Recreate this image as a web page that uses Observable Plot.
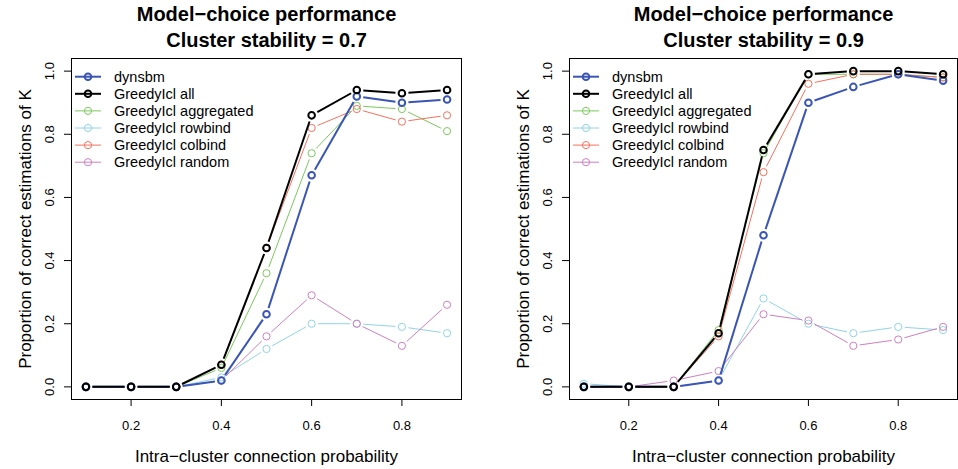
<!DOCTYPE html>
<html><head><meta charset="utf-8">
<script src="https://cdn.jsdelivr.net/npm/d3@7"></script>
<script src="https://cdn.jsdelivr.net/npm/@observablehq/plot@0.6"></script>
<style>
body{margin:0;background:#fff}
#wrap{display:flex;width:958px;height:469px;overflow:hidden}
</style></head><body><div id="wrap"></div>
<script>
// ---- data ----
const probs = [0.1, 0.2, 0.3, 0.4, 0.5, 0.6, 0.7, 0.8, 0.9];
const seriesNames = ["dynsbm", "GreedyIcl all", "GreedyIcl aggregated", "GreedyIcl rowbind", "GreedyIcl colbind", "GreedyIcl random"];
const xTicks = [0.2, 0.4, 0.6, 0.8];
const yTicks = [0, 0.2, 0.4, 0.6, 0.8, 1.0];
const panelTitles = ["Cluster stability = 0.7", "Cluster stability = 0.9"];
const mainTitle = "Model\u2212choice performance";
const xLabel = "Intra\u2212cluster connection probability";
const yLabel = "Proportion of correct estimations of K";

// stability 0.7
const dynsbm07 = [0, 0, 0, 0.02, 0.23, 0.67, 0.92, 0.90, 0.91];
const all07    = [0, 0, 0, 0.07, 0.44, 0.86, 0.94, 0.93, 0.94];
const aggr07   = [0, 0, 0, 0.06, 0.36, 0.74, 0.89, 0.88, 0.81];
const row07    = [0, 0, 0, 0.03, 0.12, 0.20, 0.20, 0.19, 0.17];
const col07    = [0, 0, 0, 0.07, 0.44, 0.82, 0.88, 0.84, 0.86];
const rand07   = [0, 0, 0, 0.02, 0.16, 0.29, 0.20, 0.13, 0.26];
// stability 0.9
const dynsbm09 = [0, 0, 0, 0.02, 0.48, 0.90, 0.95, 0.99, 0.97];
const all09    = [0, 0, 0, 0.17, 0.75, 0.99, 1.00, 1.00, 0.99];
const aggr09   = [0, 0, 0, 0.18, 0.74, 0.99, 0.99, 0.99, 0.98];
const row09    = [0.01, 0, 0, 0.02, 0.28, 0.20, 0.17, 0.19, 0.18];
const col09    = [0, 0, 0, 0.16, 0.68, 0.96, 0.99, 0.99, 0.98];
const rand09   = [0, 0, 0.02, 0.05, 0.23, 0.21, 0.13, 0.15, 0.19];

// ---- styles ----
const FONT = "'Liberation Sans', Arial, Helvetica, sans-serif";
const seriesColors = ["#3a55b4", "#000000", "#7ac95c", "#90d4e6", "#f4715e", "#cd7fc2"];
const seriesThick = [true, true, false, false, false, false];
const drawOrder = [2, 3, 4, 5, 0, 1];

function buildMarks(valuesBySeries) {
  const marks = [];
  for (const s of drawOrder) {
    const vals = valuesBySeries[s];
    const pts = probs.map((x, i) => ({x, y: vals[i]}));
    const segs = pts.slice(1).map((p, i) => ({x1: pts[i].x, y1: pts[i].y, x2: p.x, y2: p.y}));
    marks.push(Plot.arrow(segs, {
      x1: "x1", y1: "y1", x2: "x2", y2: "y2",
      stroke: seriesColors[s], strokeWidth: seriesThick[s] ? 2 : 1,
      headLength: 0, inset: 6.5, strokeLinecap: "butt"
    }));
    marks.push(Plot.dot(pts, {
      x: "x", y: "y", r: seriesThick[s] ? 3.3 : 3.6, fill: "none",
      stroke: seriesColors[s], strokeWidth: seriesThick[s] ? 2 : 1
    }));
  }
  return marks;
}

function legendMark(index, scales, values, dims) {
  const g = d3.create("svg:g").attr("font-family", FONT).attr("font-size", 14.5).attr("text-anchor", "start");
  seriesNames.forEach((name, i) => {
    const y = dims.marginTop + 18.7 + i * 17.1;
    const x0 = dims.marginLeft;
    const w = seriesThick[i] ? 2 : 1;
    g.append("line").attr("x1", x0 + 4).attr("x2", x0 + 30).attr("y1", y).attr("y2", y)
      .attr("stroke", seriesColors[i]).attr("stroke-width", w);
    g.append("circle").attr("cx", x0 + 17).attr("cy", y).attr("r", seriesThick[i] ? 3.3 : 3.6)
      .attr("fill", "none").attr("stroke", seriesColors[i]).attr("stroke-width", w);
    g.append("text").attr("x", x0 + 43).attr("y", y).attr("dy", "0.36em")
      .attr("text-anchor", "start").attr("fill", "black").text(name);
  });
  return g.node();
}

function panel(subtitle, valuesBySeries, ml, mr) {
  return Plot.plot({
    width: 479, height: 469,
    marginLeft: ml, marginRight: mr, marginTop: 58, marginBottom: 70,
    x: {domain: [0.068, 0.932]},
    y: {domain: [-0.04, 1.04]},
    style: {fontFamily: FONT, background: "white", color: "black", overflow: "visible"},
    marks: [
      Plot.axisX({ticks: xTicks, tickSize: 7, tickPadding: 14, fontSize: 13, tickFormat: d => d.toFixed(1), label: null}),
      Plot.axisY({ticks: yTicks, tickSize: 7, tickPadding: 11, tickRotate: -90, fontSize: 13, tickFormat: d => d.toFixed(1), label: null}),
      ...buildMarks(valuesBySeries),
      Plot.frame({stroke: "black", strokeWidth: 1}),
      legendMark,
      Plot.text([mainTitle], {text: d => d, frameAnchor: "top", dy: -37.5, lineAnchor: "bottom", fontSize: 20, fontWeight: "bold"}),
      Plot.text([subtitle], {text: d => d, frameAnchor: "top", dy: -11.8, lineAnchor: "bottom", fontSize: 20, fontWeight: "bold"}),
      Plot.text([xLabel], {text: d => d, frameAnchor: "bottom", dy: 57, lineAnchor: "middle", fontSize: 17}),
      Plot.text([yLabel], {text: d => d, frameAnchor: "left", textAnchor: "middle", dx: -46, rotate: -90, lineAnchor: "middle", fontSize: 17})
    ]
  });
}

const wrap = document.getElementById("wrap");
wrap.append(panel(panelTitles[0], [dynsbm07, all07, aggr07, row07, col07, rand07], 71, 18));
wrap.append(panel(panelTitles[1], [dynsbm09, all09, aggr09, row09, col09, rand09], 90, 1));
</script>
</body></html>
